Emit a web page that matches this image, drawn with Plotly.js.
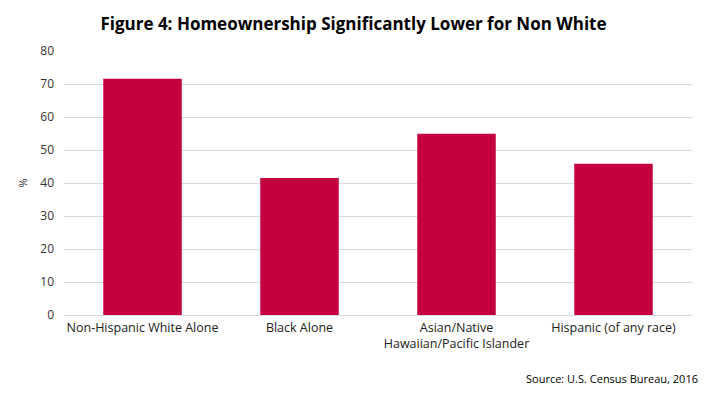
<!DOCTYPE html>
<html>
<head>
<meta charset="utf-8">
<script src="https://cdn.plot.ly/plotly-3.0.1.min.js"></script>
<style>html,body{margin:0;padding:0;background:#fff;}#chart{width:717px;height:397px;}</style>
</head>
<body>
<div id="chart"></div>
<script>
const categories = ["Non-Hispanic White Alone", "Black Alone", "Asian/Native<br>Hawaiian/Pacific Islander", "Hispanic (of any race)"];
const homeownershipRate = [71.6, 41.5, 54.9, 45.8];
const yTicks = [0, 10, 20, 30, 40, 50, 60, 70, 80];

const font = "'Open Sans', sans-serif";

Plotly.newPlot("chart", [{
  type: "bar",
  x: categories,
  y: homeownershipRate,
  marker: {color: "#C5003E"},
  hoverinfo: "x+y"
}], {
  width: 717,
  height: 397,
  margin: {l: 64, r: 25, t: 51, b: 82},
  paper_bgcolor: "#fff",
  plot_bgcolor: "#fff",
  bargap: 0.5,
  font: {family: font, size: 12, color: "#222"},
  title: {
    text: "<b>Figure 4: Homeownership Significantly Lower for Non White</b>",
    x: 0.493, xanchor: "center", y: 0.94, yanchor: "middle",
    font: {family: font, size: 17, color: "#000"}
  },
  xaxis: {
    type: "category",
    showgrid: false,
    showline: false,
    ticks: "",
    ticklabelstandoff: 3,
    tickfont: {family: font, size: 12.5, color: "#222"}
  },
  yaxis: {
    range: [0, 80],
    tickvals: yTicks,
    ticktext: yTicks.map(String),
    showgrid: true,
    gridcolor: "#d9d9d9",
    gridwidth: 1,
    zeroline: true,
    zerolinecolor: "#d9d9d9",
    zerolinewidth: 1,
    showline: false,
    ticks: "",
    ticklabelstandoff: 9,
    tickfont: {family: font, size: 12, color: "#333"},
    title: {text: "%", standoff: 10, font: {family: font, size: 11, color: "#222"}}
  },
  annotations: [{
    text: "Source: U.S. Census Bureau, 2016",
    xref: "paper", yref: "paper",
    x: 1.013, y: -0.24,
    xanchor: "right", yanchor: "middle",
    showarrow: false,
    font: {family: font, size: 11, color: "#000"}
  }],
  showlegend: false
}, {displayModeBar: false, staticPlot: true});
</script>
</body>
</html>
